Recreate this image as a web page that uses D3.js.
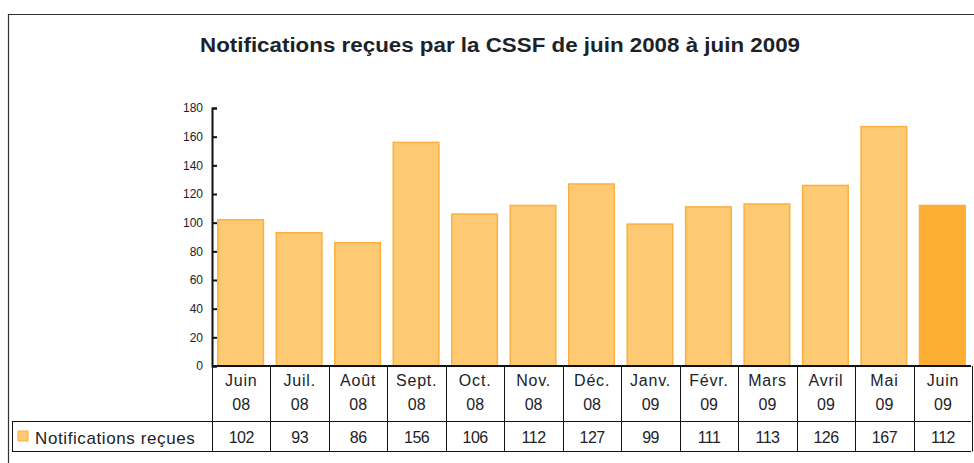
<!DOCTYPE html>
<html lang="fr">
  <head>
    <meta charset="utf-8" />
    <title>Notifications reçues par la CSSF</title>
    <script src="https://d3js.org/d3.v7.min.js"></script>
    <style>
      body { margin: 0; background: #fff; }
      svg { display: block; font-family: "Liberation Sans", Arial, sans-serif; }
      .tick text { fill: #1c2328; font-size: 12px; }
      .cell { fill: #1c2328; font-size: 16px; text-anchor: middle; }
      .grid { stroke: #111; stroke-width: 1; }
    </style>
  </head>
  <body>
    <svg width="974" height="463"></svg>
    <script>

    var months = ["Juin", "Juil.", "Août", "Sept.", "Oct.", "Nov.", "Déc.", "Janv.", "Févr.", "Mars", "Avril", "Mai", "Juin"];
    var years = ["08", "08", "08", "08", "08", "08", "08", "09", "09", "09", "09", "09", "09"];
    var values = [102, 93, 86, 156, 106, 112, 127, 99, 111, 113, 126, 167, 112];
    var yTicks = [0, 20, 40, 60, 80, 100, 120, 140, 160, 180];
    var seriesName = "Notifications reçues";
    var title = "Notifications reçues par la CSSF de juin 2008 à juin 2009";

    var svg = d3.select("svg");

    // outer frame (runs off the right and bottom edges)
    svg.append("path")
        .attr("d", "M8.5,470V14.5H980")
        .attr("fill", "none")
        .attr("stroke", "#333")
        .attr("stroke-width", 1.2);

    svg.append("text")
        .attr("x", 500)
        .attr("y", 52)
        .attr("text-anchor", "middle")
        .attr("font-size", "20px")
        .attr("font-weight", "bold")
        .attr("fill", "#1c2328")
        .attr("textLength", 600)
        .attr("lengthAdjust", "spacingAndGlyphs")
        .text(title);

    var ids = months.map(function(m, i) { return i; });

    var x = d3.scaleBand()
        .domain(ids)
        .range([212, 971])
        .paddingInner(0.22)
        .paddingOuter(0.1);

    var y = d3.scaleLinear()
        .domain([0, 180])
        .range([366, 108]);

    // bars
    svg.append("g").selectAll("rect")
        .data(values)
        .enter().append("rect")
        .attr("x", function(d, i) { return x(i); })
        .attr("y", function(d) { return y(d); })
        .attr("width", x.bandwidth())
        .attr("height", function(d) { return y(0) - y(d); })
        .attr("fill", function(d, i) { return i === values.length - 1 ? "#fdae35" : "#fdc972"; })
        .attr("stroke", function(d, i) { return i === values.length - 1 ? "#fdae35" : "#fbb040"; })
        .attr("stroke-width", 1.5);

    // y axis, ticks inside
    var yAxis = svg.append("g")
        .attr("transform", "translate(212,0)")
        .call(d3.axisRight(y).tickValues(yTicks).tickSize(5).tickPadding(-20));
    yAxis.select(".domain").attr("stroke", "#111").attr("stroke-width", 2);
    yAxis.selectAll(".tick line").attr("stroke", "#111").attr("stroke-width", 2);
    yAxis.selectAll(".tick text").attr("text-anchor", "end").attr("x", -9);

    // data table under the chart
    var rowTop = y(0), rowMid = 421.5, rowBot = 451.5;
    var step = x.step();
    var left = x.range()[0], right = x.range()[1];
    var grid = svg.append("g").attr("class", "grid");

    grid.append("line").attr("x1", left).attr("x2", right)
        .attr("y1", rowTop).attr("y2", rowTop).attr("stroke-width", 2);
    grid.append("line").attr("x1", 12).attr("x2", right)
        .attr("y1", rowMid).attr("y2", rowMid);
    grid.append("line").attr("x1", 12).attr("x2", right)
        .attr("y1", rowBot).attr("y2", rowBot);
    grid.append("line").attr("x1", 12.5).attr("x2", 12.5)
        .attr("y1", rowMid).attr("y2", rowBot);

    grid.selectAll(".sep")
        .data(d3.range(values.length + 1))
        .enter().append("line")
        .attr("class", "sep")
        .attr("x1", function(i) { return Math.round(left + i * step) + 0.5; })
        .attr("x2", function(i) { return Math.round(left + i * step) + 0.5; })
        .attr("y1", rowTop)
        .attr("y2", rowBot);

    var cols = svg.append("g").selectAll("g")
        .data(ids)
        .enter().append("g")
        .attr("transform", function(i) { return "translate(" + (left + (i + 0.5) * step) + ",0)"; });

    cols.append("text").attr("class", "cell").attr("y", 386)
        .style("letter-spacing", "0.8px")
        .text(function(i) { return months[i]; });
    cols.append("text").attr("class", "cell").attr("y", 410)
        .text(function(i) { return years[i]; });
    cols.append("text").attr("class", "cell").attr("y", 443)
        .style("letter-spacing", "-0.5px")
        .text(function(i) { return values[i]; });

    // legend key
    svg.append("rect")
        .attr("x", 18).attr("y", 431)
        .attr("width", 10).attr("height", 10)
        .attr("fill", "#fdc972")
        .attr("stroke", "#fbb040");
    svg.append("text")
        .attr("x", 35).attr("y", 444)
        .attr("font-size", "17px")
        .attr("fill", "#1c2328")
        .style("letter-spacing", "0.6px")
        .text(seriesName);

    </script>
  </body>
</html>
